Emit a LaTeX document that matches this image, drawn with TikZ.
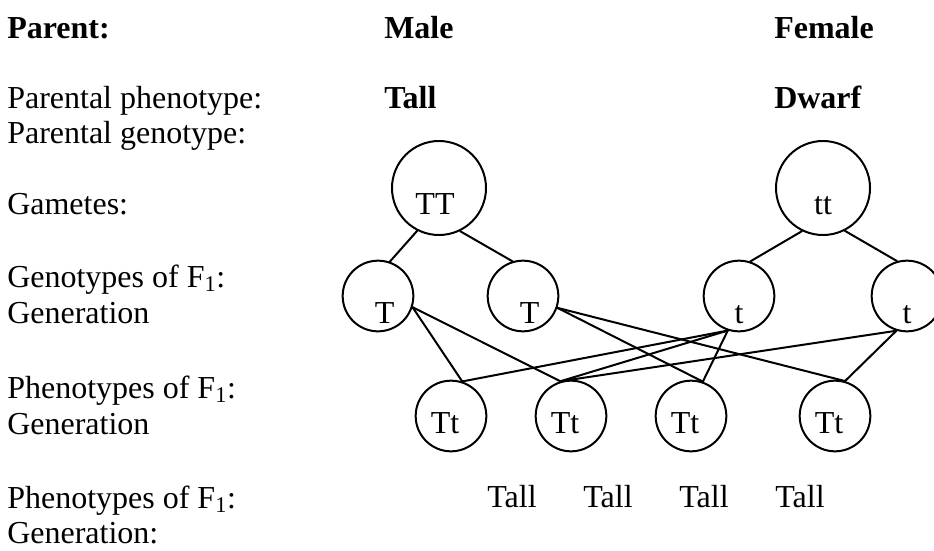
\documentclass[tikz,border=0pt]{standalone}
\usepackage{fontspec}
\setmainfont{Liberation Serif}
\tikzset{
    every picture/.style={line cap=round,line join=round},
    parentcell/.style={draw,circle,line width=1.5pt,minimum size=70.5pt,
      inner sep=0pt,text height=39pt,text depth=0pt},
    gametecell/.style={draw,circle,line width=1.5pt,minimum size=53pt,
      inner sep=0pt,text height=40.5pt,text depth=0pt},
    childcell/.style={gametecell,text height=25.5pt},
    cross/.style={line width=1.5pt},
    rowlabel/.style={anchor=base west,inner sep=0pt}
}
\begin{document}
\begin{tikzpicture}[x=0.75pt,y=-0.75pt,font=\fontsize{24}{28}\selectfont]
  \path[use as bounding box,fill=white] (0,0) rectangle (934,550);
  % headings on the left
  \node[rowlabel] (hparent) at (7,38) {\textbf{Parent:}};
  \node[rowlabel] (hpheno) at (7,108) {Parental phenotype:};
  \node[rowlabel] (hgeno) at (7,143) {Parental genotype:};
  \node[rowlabel] (hgam) at (7,214) {Gametes:};
  \node[rowlabel] (hgenoA) at (7,287) {Genotypes of F\textsubscript{1}:};
  \node[rowlabel] (hgenoB) at (7,323) {Generation};
  \node[rowlabel] (hphenoA) at (7,398) {Phenotypes of F\textsubscript{1}:};
  \node[rowlabel] (hphenoB) at (7,434) {Generation};
  \node[rowlabel] (hlastA) at (7,508) {Phenotypes of F\textsubscript{1}:};
  \node[rowlabel] (hlastB) at (7,543) {Generation:};
  \node[rowlabel] (male) at (384,38) {\textbf{Male}};
  \node[rowlabel] (female) at (774,38) {\textbf{Female}};
  \node[rowlabel] (maletall) at (384,108) {\textbf{Tall}};
  \node[rowlabel] (femaledwarf) at (774,108) {\textbf{Dwarf}};
  % parents and their gametes
  \node[parentcell] (TT) at (439,188) {TT\hspace*{6pt}};
  \node[parentcell] (tt) at (823,188) {tt};
  \node[gametecell] (T1) at (378,296) {\hspace*{10pt}T};
  \node[gametecell] (T2) at (523,296) {\hspace*{10pt}T};
  \node[gametecell] (t1) at (739,296) {t};
  \node[gametecell] (t2) at (907,296) {t};
  % offspring
  \foreach \x [count=\i] in {451,571,691,835}{\node[childcell] (F\i) at (\x,416) {Tt\hspace*{9pt}};}
  \foreach \x [count=\i] in {512,608,704,800}{\node[anchor=base] (tall\i) at (\x,507) {Tall};}
  \foreach \a/\b in {TT.243/T1.71,TT.296/T2.107,tt.244/t1.72,tt.297/t2.106,
      T1.342/F1.72,T1.342/F2.107,T2.341/F3.71,T2.341/F4.74,
      t1.252/F1.72,t1.252/F2.107,t1.252/F3.71,t2.253/F2.107,t2.253/F4.74}
    {\draw[cross] (\a) -- (\b);}
\end{tikzpicture}
\end{document}
